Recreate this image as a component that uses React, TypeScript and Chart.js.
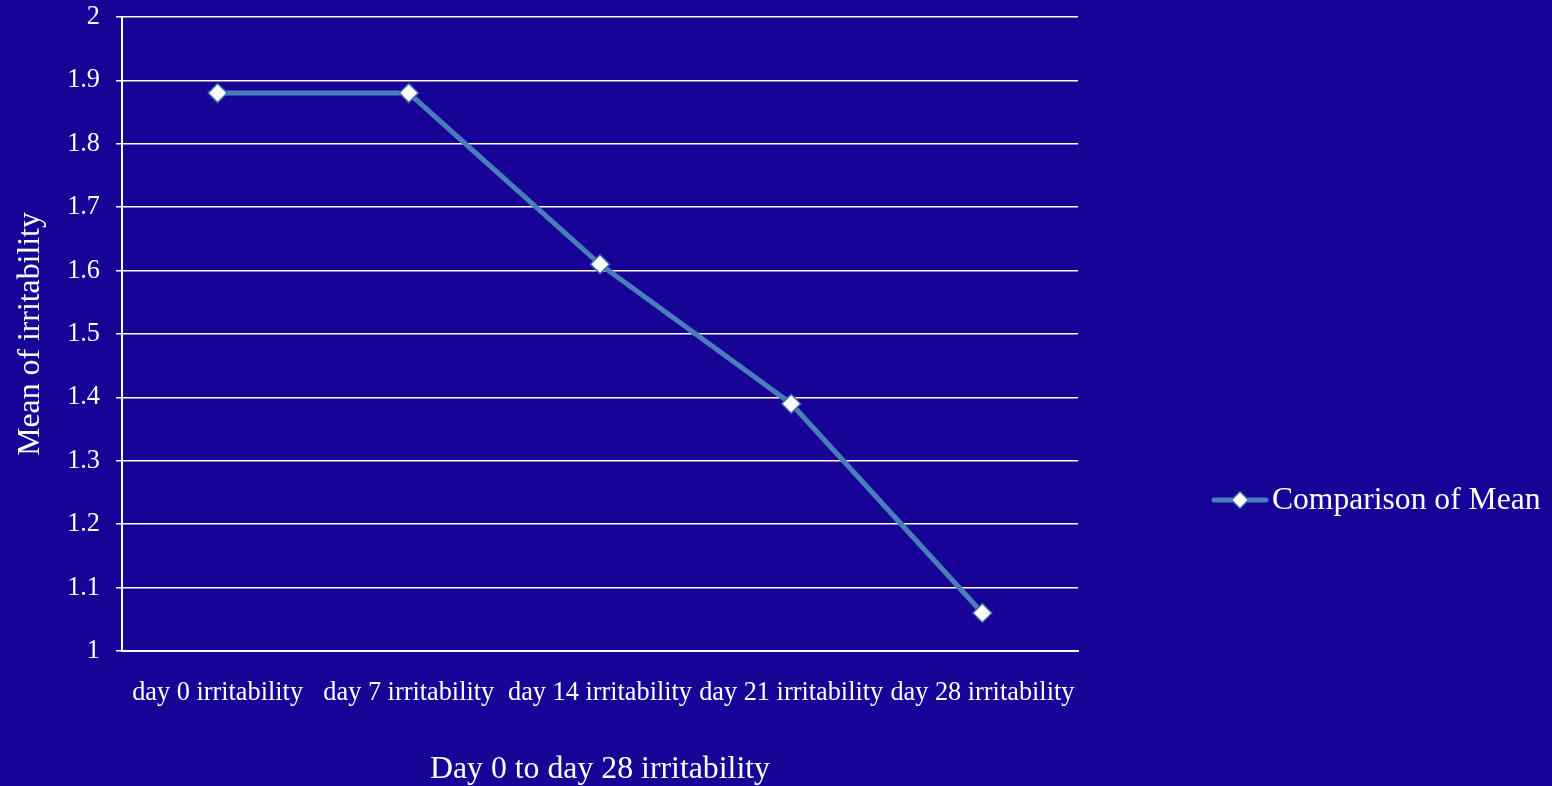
import { useEffect, useRef } from "react";
import { Chart, registerables } from "chart.js";

Chart.register(...registerables);

// Data
const categories = [
  "day 0 irritability",
  "day 7 irritability",
  "day 14 irritability",
  "day 21 irritability",
  "day 28 irritability",
];
const meanValues = [1.88, 1.88, 1.61, 1.39, 1.06];
const yTickValues = [1, 1.1, 1.2, 1.3, 1.4, 1.5, 1.6, 1.7, 1.8, 1.9, 2];
const seriesLabel = "Comparison of Mean";
const xTitle = "Day 0 to day 28 irritability";
const yTitle = "Mean of irritability";

// Styles
const BG = "#170396";
const LINE = "#4A7EBB";
const MARKER_BORDER = "#3A6AA6";
const FONT = "'Liberation Serif', 'Times New Roman', serif";

const backgroundPlugin = {
  id: "slideBackground",
  beforeDraw(chart: any) {
    const { ctx, width, height } = chart;
    ctx.save();
    ctx.fillStyle = BG;
    ctx.fillRect(0, 0, width, height);
    ctx.restore();
  },
};

// Legend drawn to the right of the plot: a line sample with a diamond, then the label
const sideLegendPlugin = {
  id: "sideLegend",
  afterDraw(chart: any) {
    const { ctx, chartArea } = chart;
    const ds = chart.data.datasets[0];
    const x0 = chartArea.right + 136;
    const y = 500;
    const sampleLen = 52;
    ctx.save();
    ctx.strokeStyle = LINE;
    ctx.lineWidth = 5;
    ctx.lineCap = "round";
    ctx.beginPath();
    ctx.moveTo(x0, y);
    ctx.lineTo(x0 + sampleLen, y);
    ctx.stroke();
    const cx = x0 + sampleLen / 2;
    const r = 8.5;
    ctx.beginPath();
    ctx.moveTo(cx, y - r);
    ctx.lineTo(cx + r, y);
    ctx.lineTo(cx, y + r);
    ctx.lineTo(cx - r, y);
    ctx.closePath();
    ctx.fillStyle = "#ffffff";
    ctx.fill();
    ctx.lineWidth = 1.5;
    ctx.strokeStyle = MARKER_BORDER;
    ctx.stroke();
    ctx.fillStyle = "#ffffff";
    ctx.font = `31.6px ${FONT}`;
    ctx.textAlign = "left";
    ctx.textBaseline = "middle";
    ctx.fillText(ds.label, x0 + sampleLen + 6, y + 1);
    ctx.restore();
  },
};

export default function App() {
  const canvasRef = useRef<HTMLCanvasElement | null>(null);

  useEffect(() => {
    const canvas = canvasRef.current;
    if (!canvas) return;
    document.body.style.margin = "0";
    document.body.style.background = BG;

    const chart = new Chart(canvas, {
      type: "line",
      data: {
        labels: categories,
        datasets: [
          {
            label: seriesLabel,
            data: meanValues,
            borderColor: LINE,
            borderWidth: 5,
            pointStyle: "rectRot",
            pointRadius: 9.5,
            pointBackgroundColor: "#ffffff",
            pointBorderColor: MARKER_BORDER,
            pointBorderWidth: 1.5,
            tension: 0,
            fill: false,
          },
        ],
      },
      options: {
        responsive: false,
        animation: false,
        events: [],
        layout: { padding: { top: 17, right: 474, bottom: 0, left: 0 } },
        plugins: {
          legend: { display: false },
          tooltip: { enabled: false },
          title: { display: false },
        },
        scales: {
          x: {
            type: "category",
            offset: true,
            grid: { display: false, drawTicks: false },
            border: { display: true, color: "#ffffff", width: 2 },
            ticks: {
              color: "#ffffff",
              font: { family: FONT, size: 26.3 },
              padding: 26,
              maxRotation: 0,
              autoSkip: false,
            },
            title: {
              display: true,
              text: xTitle,
              color: "#ffffff",
              font: { family: FONT, size: 31.8 },
              padding: { top: 0, bottom: -3 },
            },
            afterFit(scale: any) {
              scale.height = 135;
            },
          },
          y: {
            type: "linear",
            min: yTickValues[0],
            max: yTickValues[yTickValues.length - 1],
            grid: {
              color: "#ffffff",
              lineWidth: 1.5,
              drawTicks: true,
              tickLength: 6,
              tickColor: "#ffffff",
            },
            border: { display: true, color: "#ffffff", width: 2 },
            ticks: {
              stepSize: 0.1,
              color: "#ffffff",
              font: { family: FONT, size: 26.3 },
              padding: 16,
              callback: (v: any) => {
                const n = Number(Number(v).toFixed(1));
                const match = yTickValues.find((t) => Math.abs(t - n) < 1e-6);
                return match !== undefined ? String(match) : "";
              },
            },
            title: {
              display: true,
              text: yTitle,
              color: "#ffffff",
              font: { family: FONT, size: 31.8 },
              padding: { top: 12, bottom: 0 },
            },
            afterFit(scale: any) {
              scale.width = 122;
              scale.paddingTop = 0;
              scale.paddingBottom = 0;
            },
          },
        },
      },
      plugins: [backgroundPlugin, sideLegendPlugin],
    });

    return () => chart.destroy();
  }, []);

  return (
    <div style={{ position: "fixed", left: 0, top: 0, width: 1552, height: 786, overflow: "hidden", background: BG }}>
      <canvas ref={canvasRef} width={1552} height={786} style={{ display: "block" }} />
    </div>
  );
}
